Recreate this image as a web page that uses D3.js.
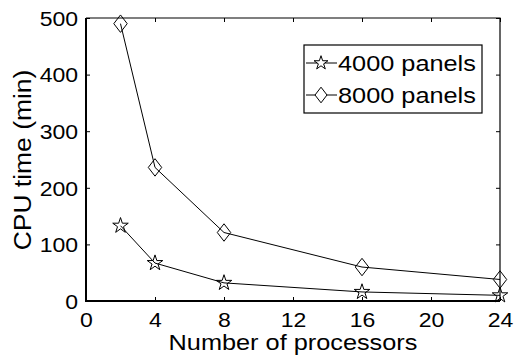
<!DOCTYPE html>
<html>
<head>
<meta charset="utf-8">
<script src="https://cdn.jsdelivr.net/npm/d3@7"></script>
<style>
  body { margin: 0; background: #fff; }
  text { font-family: "Liberation Sans", Arial, sans-serif; fill: #000; }
</style>
</head>
<body>
<svg id="grafico"></svg>
<script>
const processadores = [2, 4, 8, 16, 24];
const paineis4000 = [133, 67, 32, 16, 10];
const paineis8000 = [490, 236, 121, 60, 38];
const nomesSeries = ['4000 panels', '8000 panels'];
const ticksX = [0, 4, 8, 12, 16, 20, 24];
const ticksY = [0, 100, 200, 300, 400, 500];

let largura = 516, altura = 358;
let margem = { esquerda: 86, direita: 16, superior: 18, inferior: 57 };
let larguraPlotagem = largura - margem.esquerda - margem.direita;
let alturaPlotagem = altura - margem.superior - margem.inferior;

let svg = d3.select('#grafico').attr('width', largura).attr('height', altura);
let plotagem = svg.append('g')
    .attr('transform', 'translate(' + margem.esquerda + ',' + margem.superior + ')');

let fnX = d3.scaleLinear().domain([0, 24]).range([0, larguraPlotagem]);
let fnY = d3.scaleLinear().domain([0, 500]).range([alturaPlotagem, 0]);

// a fonte do original e mais larga que a Liberation: estica os textos
function alargar(sel) {
    sel.each(function () {
        let w = this.getComputedTextLength();
        if (w > 0) {
            d3.select(this)
                .attr('textLength', w * 1.15)
                .attr('lengthAdjust', 'spacingAndGlyphs');
        }
    });
}

// losango mais alto que largo, como o do matlab
let losango = {
    draw(ctx, tam) {
        let w = Math.sqrt(tam) * 0.5, h = w * 1.3;
        ctx.moveTo(0, -h); ctx.lineTo(w, 0); ctx.lineTo(0, h); ctx.lineTo(-w, 0); ctx.closePath();
    }
};

// eixos com ticks para dentro
function estilo(g) {
    g.select('.domain').remove();
    g.selectAll('line').attr('stroke', '#000').attr('stroke-width', 1);
    g.selectAll('text').style('font-size', '20px');
}
plotagem.append('g')
    .attr('transform', 'translate(0,' + alturaPlotagem + ')')
    .call(d3.axisBottom(fnX).tickValues(ticksX).tickSizeInner(-4).tickSizeOuter(0).tickPadding(12))
    .call(estilo)
    .selectAll('text').call(alargar);
plotagem.append('g')
    .call(d3.axisTop(fnX).tickValues(ticksX).tickSizeInner(-4).tickSizeOuter(0).tickFormat(''))
    .call(estilo);
plotagem.append('g')
    .call(d3.axisLeft(fnY).tickValues(ticksY).tickSizeInner(-4).tickSizeOuter(0).tickPadding(8))
    .call(estilo)
    .selectAll('text').attr('dy', '0.36em').call(alargar);
plotagem.append('g')
    .attr('transform', 'translate(' + larguraPlotagem + ',0)')
    .call(d3.axisRight(fnY).tickValues(ticksY).tickSizeInner(-4).tickSizeOuter(0).tickFormat(''))
    .call(estilo);

// moldura: esquerda e baixo mais grossas
plotagem.append('path')
    .attr('d', 'M0,0H' + larguraPlotagem + 'V' + alturaPlotagem)
    .attr('fill', 'none').attr('stroke', '#000').attr('stroke-width', 1.2);
plotagem.append('path')
    .attr('d', 'M0,0V' + alturaPlotagem + 'H' + larguraPlotagem)
    .attr('fill', 'none').attr('stroke', '#000').attr('stroke-width', 2);

let series = [
    { nome: nomesSeries[0], valores: paineis4000, simbolo: d3.symbolStar, tam: 75 },
    { nome: nomesSeries[1], valores: paineis8000, simbolo: losango, tam: 180 }
];

let linha = d3.line().x((d) => fnX(d.x)).y((d) => fnY(d.y));

series.forEach((s) => {
    let pontos = processadores.map((p, i) => ({ x: p, y: s.valores[i] }));
    plotagem.append('path')
        .datum(pontos)
        .attr('d', linha)
        .attr('fill', 'none')
        .attr('stroke', '#000')
        .attr('stroke-width', 1);
    plotagem.selectAll(null)
        .data(pontos)
        .enter()
        .append('path')
        .attr('transform', (d) => 'translate(' + fnX(d.x) + ',' + fnY(d.y) + ')')
        .attr('d', d3.symbol().type(s.simbolo).size(s.tam))
        .attr('fill', 'none')
        .attr('stroke', '#000')
        .attr('stroke-width', 1);
});

// legenda
let legenda = svg.append('g').attr('transform', 'translate(304,45)');
legenda.append('rect')
    .attr('width', 178).attr('height', 68)
    .attr('fill', '#fff').attr('stroke', '#000').attr('stroke-width', 1.2);
series.forEach((s, i) => {
    let y = 18 + i * 32;
    legenda.append('line')
        .attr('x1', 2).attr('x2', 33).attr('y1', y).attr('y2', y)
        .attr('stroke', '#000');
    legenda.append('path')
        .attr('transform', 'translate(17,' + y + ')')
        .attr('d', d3.symbol().type(s.simbolo).size(s.tam * 0.8))
        .attr('fill', '#fff').attr('stroke', '#000');
    legenda.append('text')
        .attr('x', 34).attr('y', y).attr('dy', '0.36em')
        .style('font-size', '22px')
        .text(s.nome)
        .call(alargar);
});

svg.append('text')
    .attr('x', margem.esquerda + larguraPlotagem / 2)
    .attr('y', 350)
    .style('text-anchor', 'middle')
    .style('font-size', '22px')
    .text('Number of processors')
    .call(alargar);
svg.append('text')
    .attr('transform', 'translate(31,160) rotate(-90)')
    .style('text-anchor', 'middle')
    .style('font-size', '23px')
    .text('CPU time (min)')
    .call(alargar);
</script>
</body>
</html>
